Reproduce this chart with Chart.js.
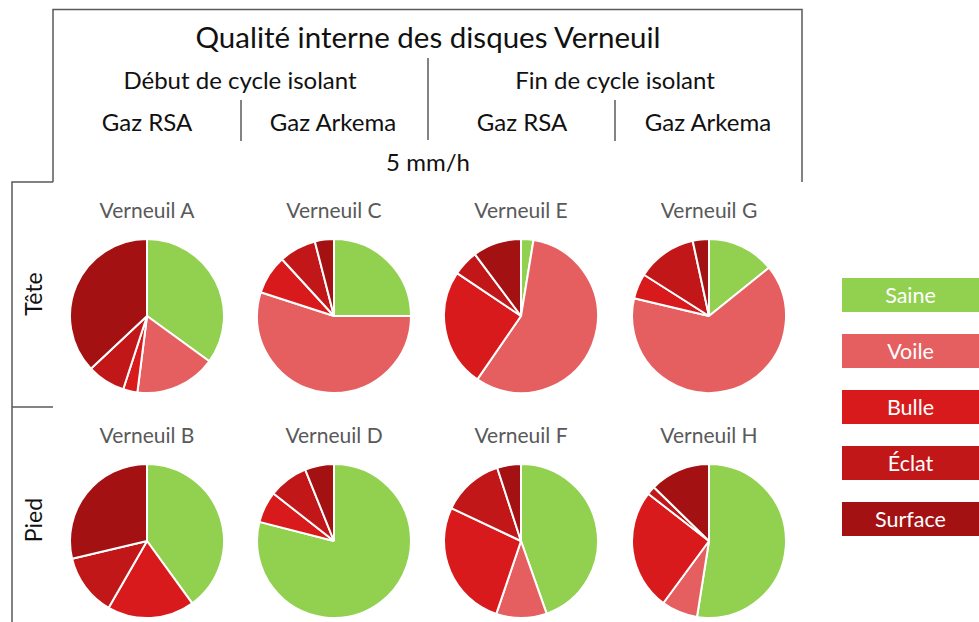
<!DOCTYPE html>
<html lang="fr">
<head>
<meta charset="utf-8">
<title>Qualité interne des disques Verneuil</title>
<script src="https://cdn.jsdelivr.net/npm/chart.js@4.4.1/dist/chart.umd.min.js"></script>
<style>
  html, body { margin: 0; padding: 0; background: #fff; }
  body { width: 979px; height: 622px; position: relative; overflow: hidden; font-family: Lato, "Open Sans", sans-serif; }
  .txt { position: absolute; transform: translate(-50%, -50%); white-space: nowrap; line-height: 1; color: #111; }
  .head { font-size: 24px; }
  .title { font-size: 29.5px; }
  .pie-title { font-size: 21px; color: #595959; }
  .side { font-size: 23px; transform: translate(-50%, -50%) rotate(-90deg); }
  .pie { position: absolute; width: 156px; height: 156px; }
  .key { position: absolute; left: 842px; width: 137px; height: 34px; line-height: 34px;
         text-align: center; color: #fff; font-size: 21.5px; }
  svg { position: absolute; left: 0; top: 0; }
</style>
</head>
<body>

<svg width="979" height="622">
  <g stroke="#5a5a5a" stroke-width="1.5" fill="none">
    <polyline points="53,182 53,9.5 802,9.5 802,182" />
    <polyline points="12,622 12,182 53,182" />
    <line x1="12" y1="407" x2="53" y2="407" />
    <line x1="428" y1="58" x2="428" y2="140" />
    <line x1="241" y1="100" x2="241" y2="141" />
    <line x1="615" y1="100" x2="615" y2="141" />
  </g>
</svg>

<div class="txt title" style="left:428px; top:37px;">Qualité interne des disques Verneuil</div>
<div class="txt head" style="left:240px; top:80px;">Début de cycle isolant</div>
<div class="txt head" style="left:615px; top:80px;">Fin de cycle isolant</div>
<div class="txt head" style="left:147px; top:122px;">Gaz RSA</div>
<div class="txt head" style="left:333px; top:122px;">Gaz Arkema</div>
<div class="txt head" style="left:522px; top:122px;">Gaz RSA</div>
<div class="txt head" style="left:708px; top:122px;">Gaz Arkema</div>
<div class="txt head" style="left:428px; top:162px;">5 mm/h</div>
<div class="txt side" style="left:33px; top:294px;">Tête</div>
<div class="txt side" style="left:33px; top:520px;">Pied</div>

<div id="grid"></div>
<div id="keys"></div>

<script>
// defect categories, in slice order (clockwise from 12 o'clock)
const categories = ['Saine', 'Voile', 'Bulle', 'Éclat', 'Surface'];
const colors = ['#92d050', '#e65f60', '#d91a1d', '#c21719', '#a31113'];

// share of each category, % (Tête row: A C E G, Pied row: B D F H)
const verneuilA = [35, 17, 3, 8, 37];
const verneuilC = [25, 55, 8.2, 7.8, 4];
const verneuilE = [2.6, 57, 24.8, 5.4, 10.2];
const verneuilG = [14.2, 64.5, 5.3, 12.6, 3.4];
const verneuilB = [40, 0, 18.3, 13, 28.7];
const verneuilD = [79, 0, 6.6, 8.3, 6.1];
const verneuilF = [44.6, 10.6, 26.8, 13, 5];
const verneuilH = [52.5, 7.6, 25.4, 1.8, 12.7];

const disks = [
  { name: 'Verneuil A', values: verneuilA, col: 0, row: 0 },
  { name: 'Verneuil C', values: verneuilC, col: 1, row: 0 },
  { name: 'Verneuil E', values: verneuilE, col: 2, row: 0 },
  { name: 'Verneuil G', values: verneuilG, col: 3, row: 0 },
  { name: 'Verneuil B', values: verneuilB, col: 0, row: 1 },
  { name: 'Verneuil D', values: verneuilD, col: 1, row: 1 },
  { name: 'Verneuil F', values: verneuilF, col: 2, row: 1 },
  { name: 'Verneuil H', values: verneuilH, col: 3, row: 1 }
];

const colX = [147, 334, 521, 709];
const rowY = [316, 541];
const R = 78;

const grid = document.getElementById('grid');
disks.forEach(d => {
  const cx = colX[d.col], cy = rowY[d.row];

  const t = document.createElement('div');
  t.className = 'txt pie-title';
  t.style.left = cx + 'px';
  t.style.top = (cy - 107) + 'px';
  t.textContent = d.name;
  grid.appendChild(t);

  const wrap = document.createElement('div');
  wrap.className = 'pie';
  wrap.style.left = (cx - R) + 'px';
  wrap.style.top = (cy - R) + 'px';
  const cv = document.createElement('canvas');
  cv.width = 2 * R;
  cv.height = 2 * R;
  wrap.appendChild(cv);
  grid.appendChild(wrap);

  new Chart(cv, {
    type: 'pie',
    data: {
      labels: categories,
      datasets: [{
        data: d.values,
        backgroundColor: colors,
        borderColor: '#ffffff',
        borderWidth: 2
      }]
    },
    options: {
      responsive: false,
      animation: false,
      layout: { padding: 0 },
      plugins: {
        legend: { display: false },
        tooltip: { enabled: false }
      }
    }
  });
});

// legend boxes on the right
const keys = document.getElementById('keys');
categories.forEach((c, i) => {
  const k = document.createElement('div');
  k.className = 'key';
  k.style.top = (278 + i * 56) + 'px';
  k.style.background = colors[i];
  k.textContent = c;
  keys.appendChild(k);
});
</script>
</body>
</html>
